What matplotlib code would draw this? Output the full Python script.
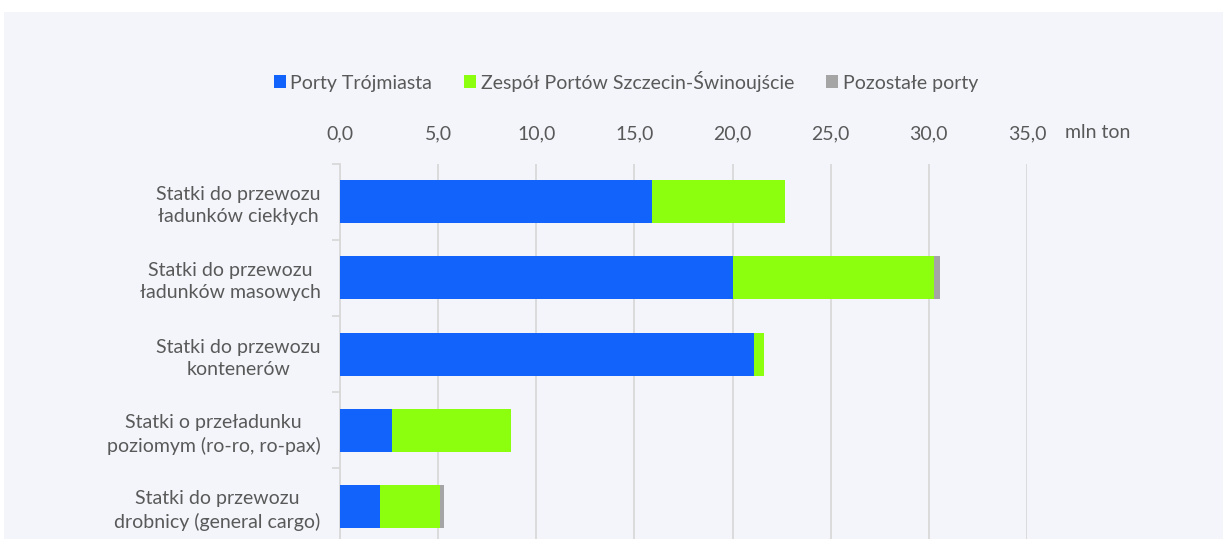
import matplotlib
matplotlib.use('Agg')
import matplotlib.pyplot as plt
from matplotlib.patches import Rectangle, Patch
import numpy as np

plt.rcParams['font.family'] = ['Lato', 'DejaVu Sans']

categories = ['Statki do przewozu\nładunków ciekłych',
              'Statki do przewozu\nładunków masowych',
              'Statki do przewozu\nkontenerów',
              'Statki o przeładunku\npoziomym (ro-ro, ro-pax)',
              'Statki do przewozu\ndrobnicy (general cargo)']
series_names = ['Porty Trójmiasta', 'Zespół Portów Szczecin-Świnoujście', 'Pozostałe porty']
trojmiasto = [15.9, 20.0, 21.1, 2.65, 2.04]
szczecin = [6.75, 10.25, 0.5, 6.05, 3.04]
pozostale = [0.0, 0.3, 0.0, 0.0, 0.2]
xticks = [0, 5, 10, 15, 20, 25, 30, 35]
unit = 'mln ton'

colors = ['#1262FC', '#8CFF0E', '#A5A5A5']
bg = '#F3F5FA'
text_c = '#595959'
fs = 14

fig = plt.figure(figsize=(12.23, 5.39), dpi=100)
fig.patch.set_facecolor('white')
fig.add_artist(Rectangle((4 / 1223, 0), 1, 1 - 12 / 539, transform=fig.transFigure,
                         facecolor=bg, edgecolor='none', zorder=-10))

ax = fig.add_axes([340 / 1223, 1 - 544.6 / 539, 687 / 1223, (544.6 - 163.7) / 539])
ax.patch.set_alpha(0)

y = np.arange(len(categories))
h = 0.565
left = np.zeros(len(categories))
for vals, col in zip([trojmiasto, szczecin, pozostale], colors):
    ax.barh(y, vals, left=left, height=h, color=col, edgecolor='none', zorder=3)
    left += np.array(vals)

ax.set_xlim(0, 35)
ax.set_ylim(len(categories) - 0.5, -0.5)
ax.xaxis.tick_top()
ax.set_xticks(xticks)
ax.set_xticklabels(['{:.1f}'.format(v).replace('.', ',') for v in xticks], fontsize=fs, color=text_c)
ax.tick_params(axis='x', length=0, pad=15)
ax.grid(axis='x', color='#D9D9D9', linewidth=1.3, zorder=0)

ax.set_yticks(y)
ax.set_yticklabels(categories, fontsize=fs, color=text_c, linespacing=1.35)
for lab in ax.get_yticklabels():
    lab.set_multialignment('center')
ax.tick_params(axis='y', length=0, pad=14)
ax.set_yticks(np.arange(-0.5, len(categories), 1), minor=True)
ax.tick_params(axis='y', which='minor', length=6, color='#D9D9D9', width=1.3)

for s in ['top', 'right', 'bottom']:
    ax.spines[s].set_visible(False)
ax.spines['left'].set_color('#D9D9D9')
ax.spines['left'].set_linewidth(1.3)

fig.text(1065 / 1223, 1 - 133 / 539, unit, fontsize=fs, color=text_c, va='center', ha='left')

handles = [Patch(facecolor=c, edgecolor='none') for c in colors]
fig.legend(handles, series_names, loc='center', bbox_to_anchor=(626 / 1223, 1 - 81 / 539),
           ncol=3, frameon=False, fontsize=fs, labelcolor=text_c,
           handlelength=0.6, handleheight=0.6, handletextpad=0.25, columnspacing=1.65)

fig.savefig('out.png', dpi=100, facecolor='white')
